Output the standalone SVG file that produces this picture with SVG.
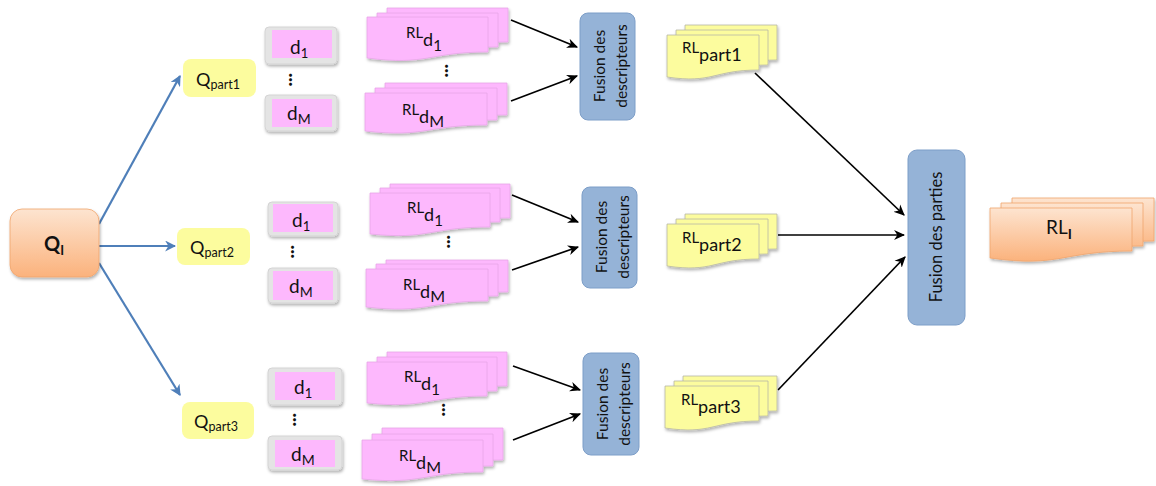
<svg xmlns="http://www.w3.org/2000/svg" width="1156" height="486" viewBox="0 0 1156 486">
<style>
text{font-family:Lato,"Open Sans","Liberation Sans",sans-serif;fill:#111}
.qp{fill:#fcfc9e}
.dout{fill:#e4e4e4;stroke:#d4d4d4;stroke-width:1}
.din{fill:#fdb8fd}
.pk{fill:#fdb8fd;stroke:#e7a6e7;stroke-width:0.8}
.yl{fill:#fcfc9e;stroke:#b7b7a6;stroke-width:0.8}
.or{fill:url(#og);stroke:#f0a46c;stroke-width:0.8}
.fb{fill:#95b3d7;stroke:#7d9ec8;stroke-width:1}
.bl{stroke:#4f7fb9;stroke-width:2.2;fill:none}
.bk{stroke:#000;stroke-width:1.7;fill:none}
.dots{font-weight:900;font-size:19px}
.ft{font-size:15.5px;text-anchor:middle}
</style>
<defs>
<linearGradient id="og" x1="0" y1="0" x2="0" y2="1"><stop offset="0" stop-color="#fde4d0"/><stop offset="1" stop-color="#fbb27c"/></linearGradient>
<filter id="sh" x="-10%" y="-10%" width="130%" height="140%"><feDropShadow dx="1" dy="2" stdDeviation="1.5" flood-color="#000" flood-opacity="0.3"/></filter>
<marker id="ab" viewBox="0 0 10 10" refX="9" refY="5" markerWidth="5" markerHeight="5" orient="auto" markerUnits="strokeWidth"><path d="M0,0 L10,5 L0,10 L3,5 z" fill="#4f7fb9"/></marker>
<marker id="ak" viewBox="0 0 10 10" refX="9" refY="5" markerWidth="6.5" markerHeight="6.5" orient="auto" markerUnits="strokeWidth"><path d="M0,0.5 L10,5 L0,9.5 L3,5 z" fill="#000"/></marker>
</defs>

<g id="connectors">
<path class="bl" d="M99,224 L180,76" marker-end="url(#ab)"/>
<path class="bl" d="M99,246 L175,246" marker-end="url(#ab)"/>
<path class="bl" d="M99,263 L180,395" marker-end="url(#ab)"/>
<path class="bk" d="M511,20 L577,47" marker-end="url(#ak)"/>
<path class="bk" d="M511,101 L577,76" marker-end="url(#ak)"/>
<path class="bk" d="M512,195 L578,222" marker-end="url(#ak)"/>
<path class="bk" d="M512,270 L578,247" marker-end="url(#ak)"/>
<path class="bk" d="M513,366 L580,390" marker-end="url(#ak)"/>
<path class="bk" d="M513,440 L580,414" marker-end="url(#ak)"/>
<path class="bk" d="M755,73 L904,215" marker-end="url(#ak)"/>
<path class="bk" d="M778,235 L904,235" marker-end="url(#ak)"/>
<path class="bk" d="M778,390 L905,257" marker-end="url(#ak)"/>
</g>

<g id="QI">
<rect x="10" y="209" width="89" height="68" rx="12" class="or" filter="url(#sh)"/>
<text x="44" y="251" font-size="20" font-weight="bold">Q<tspan font-size="13" dy="4">I</tspan></text>
</g>

<g id="Qpart1"><rect x="183" y="59" width="73" height="38" rx="8" class="qp"/>
<text x="196" y="86" font-size="18">Q<tspan font-size="12.5" dy="3">part1</tspan></text></g>
<g id="Qpart2"><rect x="177" y="228" width="73" height="37" rx="8" class="qp"/>
<text x="190" y="254" font-size="18">Q<tspan font-size="12.5" dy="3">part2</tspan></text></g>
<g id="Qpart3"><rect x="182" y="402" width="72" height="37" rx="8" class="qp"/>
<text x="194" y="428" font-size="18">Q<tspan font-size="12.5" dy="3">part3</tspan></text></g>

<!-- descriptor boxes row 1 -->
<g id="r1d1"><rect x="265" y="27" width="72" height="37" rx="4" class="dout" filter="url(#sh)"/><rect x="272" y="30" width="60" height="28" class="din"/>
<text x="290" y="54" font-size="19">d<tspan font-size="13" dy="4">1</tspan></text></g>
<text class="dots" transform="translate(289,73) rotate(90)">...</text>
<g id="r1dM"><rect x="265" y="95" width="72" height="36" rx="4" class="dout" filter="url(#sh)"/><rect x="272" y="99" width="60" height="28" class="din"/>
<text x="287" y="120" font-size="19">d<tspan font-size="14" dy="4">M</tspan></text></g>

<!-- row 2 -->
<g id="r2d1"><rect x="268" y="202" width="70" height="34" rx="4" class="dout" filter="url(#sh)"/><rect x="273" y="204" width="60" height="28" class="din"/>
<text x="292" y="227" font-size="19">d<tspan font-size="13" dy="4">1</tspan></text></g>
<text class="dots" transform="translate(291,245) rotate(90)">...</text>
<g id="r2dM"><rect x="268" y="268" width="70" height="35" rx="4" class="dout" filter="url(#sh)"/><rect x="273" y="271" width="60" height="29" class="din"/>
<text x="289" y="293" font-size="19">d<tspan font-size="14" dy="4">M</tspan></text></g>

<!-- row 3 -->
<g id="r3d1"><rect x="268" y="368" width="74" height="37" rx="4" class="dout" filter="url(#sh)"/><rect x="275" y="372" width="60" height="28" class="din"/>
<text x="294" y="394" font-size="19">d<tspan font-size="13" dy="4">1</tspan></text></g>
<text class="dots" transform="translate(293,413) rotate(90)">...</text>
<g id="r3dM"><rect x="268" y="436" width="74" height="34" rx="4" class="dout" filter="url(#sh)"/><rect x="275" y="440" width="60" height="27" class="din"/>
<text x="291" y="461" font-size="19">d<tspan font-size="14" dy="4">M</tspan></text></g>

<!-- RL_d stacks row 1 -->
<g id="r1RLd1" filter="url(#sh)">
<path class="pk" d="M387,8 H508 V42 C448,42 448,55 387,49 Z"/>
<path class="pk" d="M377,13 H498 V47 C438,47 438,60 377,54 Z"/>
<path class="pk" d="M367,17 H488 V52 C428,52 428,66 367,58 Z"/>
</g>
<text x="406" y="38" font-size="15">RL<tspan font-size="18" dy="8">d</tspan><tspan font-size="15" dy="5">1</tspan></text>
<text class="dots" transform="translate(445,64) rotate(90)">...</text>
<g id="r1RLdM" filter="url(#sh)">
<path class="pk" d="M385,83 H507 V115 C446,115 446,128 385,122 Z"/>
<path class="pk" d="M375,88 H497 V120 C436,120 436,133 375,127 Z"/>
<path class="pk" d="M365,93 H487 V125 C426,125 426,138 365,131 Z"/>
</g>
<text x="402" y="115" font-size="15">RL<tspan font-size="18" dy="8">d</tspan><tspan font-size="16" dy="4">M</tspan></text>

<!-- row 2 -->
<g id="r2RLd1" filter="url(#sh)">
<path class="pk" d="M390,184 H510 V218 C450,218 450,231 390,225 Z"/>
<path class="pk" d="M380,188 H500 V222 C440,222 440,235 380,229 Z"/>
<path class="pk" d="M370,193 H490 V227 C430,227 430,240 370,234 Z"/>
</g>
<text x="407" y="213" font-size="15">RL<tspan font-size="18" dy="8">d</tspan><tspan font-size="15" dy="5">1</tspan></text>
<text class="dots" transform="translate(447,235) rotate(90)">...</text>
<g id="r2RLdM" filter="url(#sh)">
<path class="pk" d="M386,260 H508 V292 C447,292 447,305 386,299 Z"/>
<path class="pk" d="M376,264 H498 V296 C437,296 437,309 376,303 Z"/>
<path class="pk" d="M366,269 H488 V301 C427,301 427,314 366,307 Z"/>
</g>
<text x="403" y="290" font-size="15">RL<tspan font-size="18" dy="8">d</tspan><tspan font-size="16" dy="4">M</tspan></text>

<!-- row 3 -->
<g id="r3RLd1" filter="url(#sh)">
<path class="pk" d="M387,352 H507 V386 C447,386 447,399 387,393 Z"/>
<path class="pk" d="M377,357 H497 V391 C437,391 437,404 377,398 Z"/>
<path class="pk" d="M367,362 H487 V396 C427,396 427,409 367,403 Z"/>
</g>
<text x="404" y="382" font-size="15">RL<tspan font-size="18" dy="8">d</tspan><tspan font-size="15" dy="5">1</tspan></text>
<text class="dots" transform="translate(442,403) rotate(90)">...</text>
<g id="r3RLdM" filter="url(#sh)">
<path class="pk" d="M382,428 H503 V460 C443,460 443,473 382,467 Z"/>
<path class="pk" d="M372,434 H493 V466 C433,466 433,479 372,473 Z"/>
<path class="pk" d="M362,440 H483 V472 C423,472 423,485 362,479 Z"/>
</g>
<text x="399" y="461" font-size="15">RL<tspan font-size="18" dy="8">d</tspan><tspan font-size="16" dy="4">M</tspan></text>

<!-- fusion des descripteurs -->
<g id="fd1"><rect x="580" y="13" width="55" height="107" rx="8" class="fb"/>
<text class="ft" transform="translate(605,66) rotate(-90)">Fusion des</text>
<text class="ft" transform="translate(627,66) rotate(-90)">descripteurs</text></g>
<g id="fd2"><rect x="582" y="187" width="55" height="101" rx="8" class="fb"/>
<text class="ft" transform="translate(607,237) rotate(-90)">Fusion des</text>
<text class="ft" transform="translate(629,237) rotate(-90)">descripteurs</text></g>
<g id="fd3"><rect x="583" y="353" width="56" height="102" rx="8" class="fb"/>
<text class="ft" transform="translate(608,404) rotate(-90)">Fusion des</text>
<text class="ft" transform="translate(630,404) rotate(-90)">descripteurs</text></g>

<!-- RL_part stacks -->
<g id="RLpart1"><g filter="url(#sh)">
<path class="yl" d="M685,25 H777 V60 C731,60 731,74 685,67 Z"/>
<path class="yl" d="M676,30 H768 V65 C722,65 722,79 676,72 Z"/>
<path class="yl" d="M667,35 H759 V70 C713,70 713,84 667,77 Z"/></g>
<text x="682" y="53" font-size="15">RL<tspan font-size="18" dy="8">part1</tspan></text></g>

<g id="RLpart2"><g filter="url(#sh)">
<path class="yl" d="M685,214 H777 V249 C731,249 731,263 685,256 Z"/>
<path class="yl" d="M676,219 H768 V254 C722,254 722,268 676,261 Z"/>
<path class="yl" d="M667,224 H759 V259 C713,259 713,273 667,266 Z"/></g>
<text x="682" y="243" font-size="15">RL<tspan font-size="18" dy="8">part2</tspan></text></g>

<g id="RLpart3"><g filter="url(#sh)">
<path class="yl" d="M683,376 H777 V411 C730,411 730,425 683,418 Z"/>
<path class="yl" d="M674,381 H768 V416 C721,416 721,430 674,423 Z"/>
<path class="yl" d="M665,386 H759 V421 C712,421 712,435 665,428 Z"/></g>
<text x="681" y="405" font-size="15">RL<tspan font-size="18" dy="8">part3</tspan></text></g>

<!-- fusion des parties -->
<g id="fp"><rect x="908" y="150" width="57" height="175" rx="9" class="fb"/>
<text font-size="16.5" text-anchor="middle" transform="translate(942,237) rotate(-90)">Fusion des parties</text></g>

<!-- RL_I -->
<g id="RLI"><g filter="url(#sh)">
<path class="or" d="M1012,198 H1154 V241 C1083,241 1083,258 1012,248 Z"/>
<path class="or" d="M1001,203 H1143 V246 C1072,246 1072,263 1001,253 Z"/>
<path class="or" d="M990,208 H1132 V251 C1061,251 1061,268 990,258 Z"/></g>
<text x="1046" y="234" font-size="19">RL<tspan font-size="14" font-weight="bold" dy="5">I</tspan></text></g>
</svg>
